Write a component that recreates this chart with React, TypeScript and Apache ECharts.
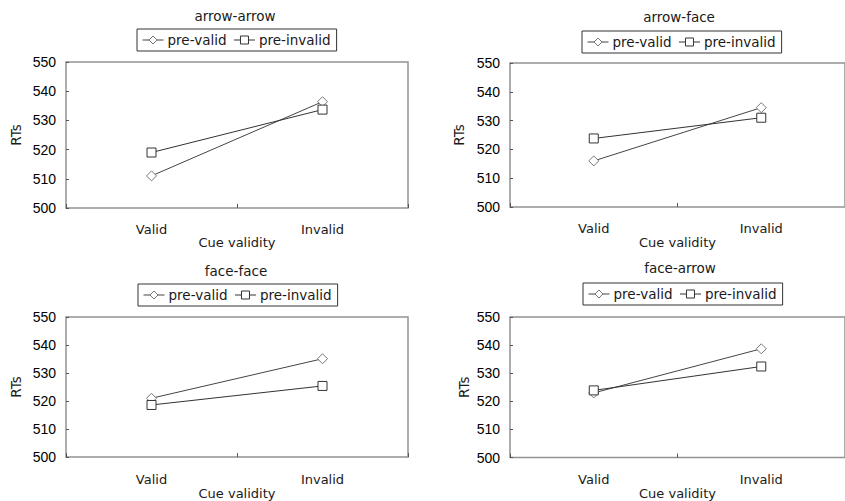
import React, { useEffect, useRef } from "react";
import * as echarts from "echarts";

const categories = ["Valid", "Invalid"];
const seriesNames = ["pre-valid", "pre-invalid"];
const panelTitles = ["arrow-arrow", "arrow-face", "face-face", "face-arrow"];
const yAxisName = "RTs";
const xAxisName = "Cue validity";
const yMin = 500;
const yMax = 550;
const yStep = 10;

const preValidArrowArrow = [511, 536.4];
const preInvalidArrowArrow = [519, 533.7];
const preValidArrowFace = [516, 534.5];
const preInvalidArrowFace = [523.8, 531];
const preValidFaceFace = [521, 535.1];
const preInvalidFaceFace = [518.6, 525.4];
const preValidFaceArrow = [523, 538.7];
const preInvalidFaceArrow = [523.9, 532.4];

const preValidData = [preValidArrowArrow, preValidArrowFace, preValidFaceFace, preValidFaceArrow];
const preInvalidData = [preInvalidArrowArrow, preInvalidArrowFace, preInvalidFaceFace, preInvalidFaceArrow];

// layout (positions only)
const layouts = [
  { left: 66, top: 62, width: 342, height: 146, tx: 235, ty: 16, lx: 137, ly: 29, lm: 14.5, ng: 23.5, yg: 43 },
  { left: 510, top: 63, width: 344, height: 144, tx: 679, ty: 17, lx: 582, ly: 31, lm: 15, ng: 24.5, yg: 44 },
  { left: 66, top: 317, width: 342, height: 146, tx: 236, ty: 271, lx: 138, ly: 284, lm: 16, ng: 23, yg: 43 },
  { left: 510, top: 317, width: 345, height: 144, tx: 680, ty: 268, lx: 583, ly: 283, lm: 15.5, ng: 24, yg: 39 },
];

const textFont = "'DejaVu Sans', sans-serif";
const numFont = "'Liberation Sans', Arial, sans-serif";

const diamondStyle = { color: "#fff", borderColor: "#777", borderWidth: 1 };
const squareStyle = { color: "#fff", borderColor: "#333", borderWidth: 1 };

export default function App() {
  const ref = useRef<HTMLDivElement>(null);
  useEffect(() => {
    document.body.style.margin = "0";
    if (!ref.current) return;
    const chart = echarts.init(ref.current, undefined, { renderer: "svg" });
    const option: any = {
      animation: false,
      backgroundColor: "#fff",
      grid: layouts.map((l) => ({
        left: l.left,
        top: l.top,
        width: l.width,
        height: l.height,
        show: true,
        borderColor: "#929292",
        borderWidth: 1.5,
        backgroundColor: "transparent",
        containLabel: false,
      })),
      xAxis: layouts.map((l, i) => ({
        type: "category",
        gridIndex: i,
        data: categories,
        boundaryGap: true,
        axisLine: { show: false },
        axisTick: { show: true, inside: true, length: 4, lineStyle: { color: "#555" } },
        axisLabel: { margin: l.lm, fontSize: 13, color: "#1a1a1a", fontFamily: textFont },
        splitLine: { show: false },
        name: xAxisName,
        nameLocation: "middle",
        nameGap: l.ng,
        nameTextStyle: { fontSize: 13, color: "#1a1a1a", fontFamily: textFont },
      })),
      yAxis: layouts.map((l, i) => ({
        type: "value",
        gridIndex: i,
        min: yMin,
        max: yMax,
        interval: yStep,
        axisLine: { show: false },
        axisTick: { show: true, inside: true, length: 3, lineStyle: { color: "#555" } },
        splitLine: { show: false },
        axisLabel: { margin: 10, fontSize: 14, color: "#000", fontFamily: numFont },
        name: yAxisName,
        nameLocation: "middle",
        nameRotate: 90,
        nameGap: l.yg,
        nameTextStyle: { fontSize: 13.5, color: "#1a1a1a", fontFamily: textFont },
      })),
      legend: layouts.map((l) => ({
        data: [
          { name: seriesNames[0], itemStyle: diamondStyle, lineStyle: { color: "#444", width: 1 } },
          { name: seriesNames[1], itemStyle: squareStyle, lineStyle: { color: "#333", width: 1 } },
        ],
        left: l.lx,
        top: l.ly,
        orient: "horizontal",
        borderColor: "#333",
        borderWidth: 1,
        borderRadius: 0,
        backgroundColor: "#fff",
        padding: [4, 6, 4, 5],
        itemGap: 7,
        itemWidth: 21,
        itemHeight: 10,
        selectedMode: false,
        textStyle: { fontSize: 13.5, color: "#1a1a1a", fontFamily: textFont, padding: [0, 0, 0, -1] },
      })),
      graphic: layouts.map((l, i) => ({
        type: "text",
        x: l.tx,
        y: l.ty,
        style: {
          text: panelTitles[i],
          fontSize: 13.5,
          fontFamily: textFont,
          fill: "#1a1a1a",
          align: "center",
          verticalAlign: "middle",
          textAlign: "center",
          textVerticalAlign: "middle",
        },
      })),
      series: layouts.flatMap((l, i) => [
        {
          type: "line",
          name: seriesNames[0],
          xAxisIndex: i,
          yAxisIndex: i,
          data: preValidData[i],
          symbol: "diamond",
          symbolSize: [10, 10],
          showAllSymbol: true,
          itemStyle: diamondStyle,
          lineStyle: { color: "#444", width: 1 },
          emphasis: { disabled: true },
        },
        {
          type: "line",
          name: seriesNames[1],
          xAxisIndex: i,
          yAxisIndex: i,
          data: preInvalidData[i],
          symbol: "rect",
          symbolSize: 9,
          showAllSymbol: true,
          itemStyle: squareStyle,
          lineStyle: { color: "#333", width: 1 },
          emphasis: { disabled: true },
        },
      ]),
    };
    chart.setOption(option);
    return () => chart.dispose();
  }, []);
  return <div ref={ref} style={{ position: "absolute", left: 0, top: 0, width: 845, height: 501 }} />;
}
